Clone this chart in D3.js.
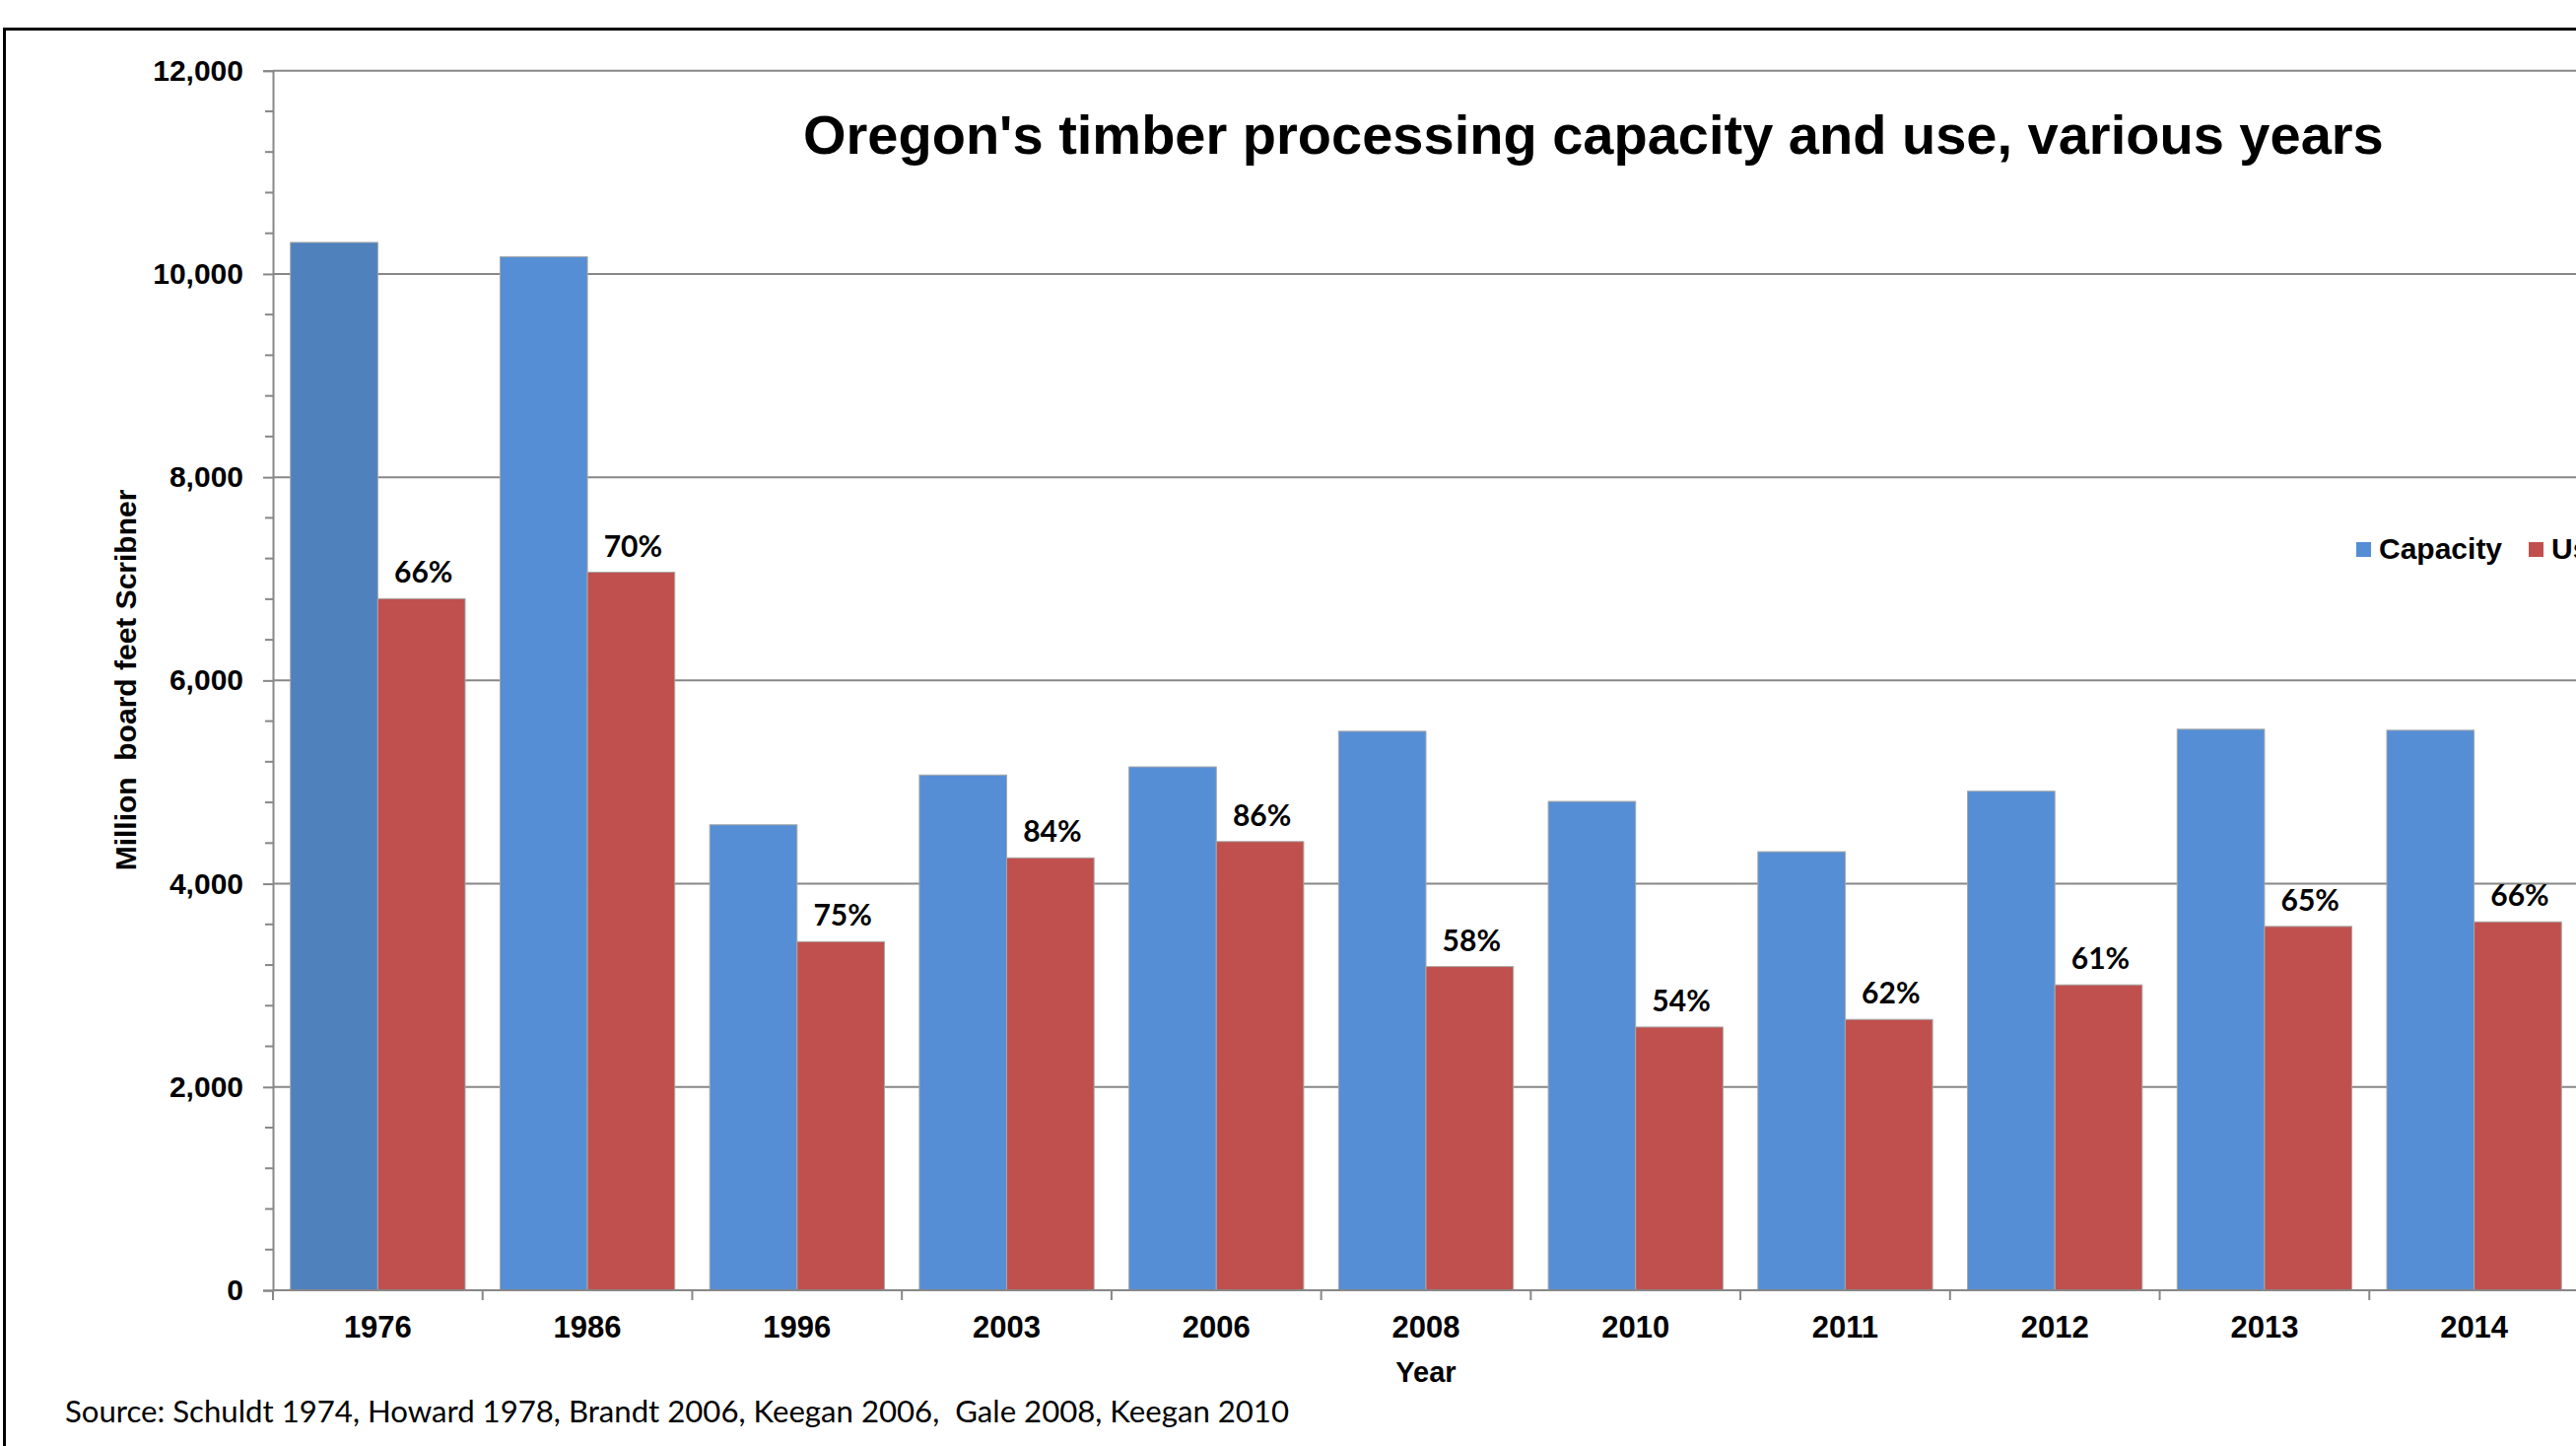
<!DOCTYPE html>
<html>
<head>
<meta charset="utf-8">
<script src="https://cdn.jsdelivr.net/npm/d3@7"></script>
<style>
  body { margin: 0; background: #fff; overflow: hidden; }
  svg { display: block; }
  .tick-label { font-family: "Liberation Sans", Arial, sans-serif; font-weight: bold; fill: #000; }
  .pct { font-family: Lato, "Open Sans", sans-serif; font-weight: bold; fill: #000; }
</style>
</head>
<body>
<div id="chart"></div>
<script>
  // values (million board feet Scribner)
  const years = ['1976', '1986', '1996', '2003', '2006', '2008', '2010', '2011', '2012', '2013', '2014'];
  const capacity = [10310, 10170, 4580, 5070, 5150, 5500, 4810, 4315, 4910, 5520, 5510];
  const use = [6805, 7065, 3430, 4255, 4415, 3185, 2590, 2665, 3005, 3580, 3625];
  const useLabels = ['66%', '70%', '75%', '84%', '86%', '58%', '54%', '62%', '61%', '65%', '66%'];
  const yTicks = [0, 2000, 4000, 6000, 8000, 10000, 12000];
  const seriesNames = ['Capacity', 'Use'];

  const width = 2614;
  const height = 1467;
  const plot = { left: 277, right: 2617, top: 71.7, bottom: 1309 };

  const colors = {
    capacity: '#558ED5',
    capacityFirst: '#4F81BD',
    use: '#C0504D',
    grid: '#878787',
  };

  const svg = d3.select('#chart').append('svg')
    .attr('width', width)
    .attr('height', height);

  // outer frame of the original chart object (runs off the right and bottom)
  svg.append('rect')
    .attr('x', 4.5).attr('y', 29.5)
    .attr('width', 2800).attr('height', 1600)
    .attr('fill', 'none')
    .attr('stroke', '#000')
    .attr('stroke-width', 3);

  const x = d3.scaleBand().domain(years).range([plot.left, plot.right]);
  const xSub = d3.scaleBand().domain(seriesNames).range([0, x.bandwidth()])
    .paddingInner(0).paddingOuter(0.2);
  const y = d3.scaleLinear().domain([0, 12000]).range([plot.bottom, plot.top]);

  // gridlines
  svg.append('g').selectAll('line')
    .data(yTicks.filter(d => d > 0))
    .join('line')
    .attr('x1', plot.left).attr('x2', plot.right)
    .attr('y1', d => y(d)).attr('y2', d => y(d))
    .attr('stroke', colors.grid)
    .attr('stroke-width', 2);

  // bars
  const groups = svg.append('g').selectAll('g')
    .data(years.map((yr, i) => ({ yr, i })))
    .join('g')
    .attr('transform', d => `translate(${x(d.yr)},0)`);

  groups.append('rect')
    .attr('x', xSub('Capacity'))
    .attr('width', xSub.bandwidth())
    .attr('y', d => y(capacity[d.i]))
    .attr('height', d => y(0) - y(capacity[d.i]))
    .attr('fill', d => (d.i === 0 ? colors.capacityFirst : colors.capacity))
    .attr('stroke', '#a7a7a7')
    .attr('stroke-width', 1);

  groups.append('rect')
    .attr('x', xSub('Use'))
    .attr('width', xSub.bandwidth())
    .attr('y', d => y(use[d.i]))
    .attr('height', d => y(0) - y(use[d.i]))
    .attr('fill', colors.use)
    .attr('stroke', '#a7a7a7')
    .attr('stroke-width', 1);

  // percentage labels above the use bars
  groups.append('text')
    .attr('class', 'pct')
    .attr('x', xSub('Use') + xSub.bandwidth() / 2 + 2)
    .attr('y', d => y(use[d.i]) - 16)
    .attr('text-anchor', 'middle')
    .attr('font-size', 30)
    .text(d => useLabels[d.i]);

  // y axis with major and minor ticks
  const yAxis = svg.append('g')
    .attr('transform', `translate(${plot.left},0)`)
    .call(d3.axisLeft(y).tickValues(yTicks).tickFormat(d3.format(',')).tickSize(10).tickPadding(20));
  yAxis.select('.domain').attr('stroke', colors.grid).attr('stroke-width', 2);
  yAxis.selectAll('.tick line').attr('stroke', colors.grid).attr('stroke-width', 2);
  yAxis.selectAll('.tick text')
    .attr('class', 'tick-label')
    .attr('font-size', 30);

  const minor = d3.range(0, 12001, 400).filter(v => v % 2000 !== 0);
  svg.append('g').selectAll('line')
    .data(minor)
    .join('line')
    .attr('x1', plot.left - 8).attr('x2', plot.left)
    .attr('y1', d => y(d)).attr('y2', d => y(d))
    .attr('stroke', colors.grid)
    .attr('stroke-width', 2);

  // x axis: line, tick marks at the category edges, labels at the centres
  svg.append('line')
    .attr('x1', plot.left).attr('x2', plot.right)
    .attr('y1', plot.bottom).attr('y2', plot.bottom)
    .attr('stroke', colors.grid)
    .attr('stroke-width', 2);

  const edges = years.map(d => x(d)).concat([x(years[years.length - 1]) + x.bandwidth()]);
  svg.append('g').selectAll('line')
    .data(edges)
    .join('line')
    .attr('x1', d => d).attr('x2', d => d)
    .attr('y1', plot.bottom).attr('y2', plot.bottom + 10)
    .attr('stroke', colors.grid)
    .attr('stroke-width', 2);

  svg.append('g').selectAll('text')
    .data(years)
    .join('text')
    .attr('class', 'tick-label')
    .attr('x', d => x(d) + x.bandwidth() / 2)
    .attr('y', 1357)
    .attr('text-anchor', 'middle')
    .attr('font-size', 31)
    .text(d => d);

  // axis titles
  svg.append('text')
    .attr('class', 'tick-label')
    .attr('x', (plot.left + plot.right) / 2)
    .attr('y', 1402)
    .attr('text-anchor', 'middle')
    .attr('font-size', 29)
    .text('Year');

  svg.append('text')
    .attr('class', 'tick-label')
    .attr('transform', 'translate(138,690) rotate(-90)')
    .attr('text-anchor', 'middle')
    .attr('font-size', 30)
    .style('white-space', 'pre')
    .text('Million  board feet Scribner');

  // title
  svg.append('text')
    .attr('class', 'tick-label')
    .attr('x', 815)
    .attr('y', 156)
    .attr('font-size', 56)
    .text("Oregon's timber processing capacity and use, various years");

  // legend (runs off the right edge like the original)
  const legend = svg.append('g').selectAll('g')
    .data(seriesNames)
    .join('g')
    .attr('transform', (d, i) => `translate(${2391 + i * 175},550)`);
  legend.append('rect')
    .attr('width', 15).attr('height', 15)
    .attr('fill', (d, i) => (i === 0 ? colors.capacity : colors.use));
  legend.append('text')
    .attr('class', 'tick-label')
    .attr('x', 23)
    .attr('y', 17)
    .attr('font-size', 30)
    .text(d => d);

  // source note
  svg.append('text')
    .attr('x', 66)
    .attr('y', 1443)
    .attr('font-family', 'Lato, "Open Sans", sans-serif')
    .attr('font-size', 31)
    .attr('textLength', 1242)
    .attr('lengthAdjust', 'spacingAndGlyphs')
    .style('white-space', 'pre')
    .text('Source: Schuldt 1974, Howard 1978, Brandt 2006, Keegan 2006,  Gale 2008, Keegan 2010');
</script>
</body>
</html>
